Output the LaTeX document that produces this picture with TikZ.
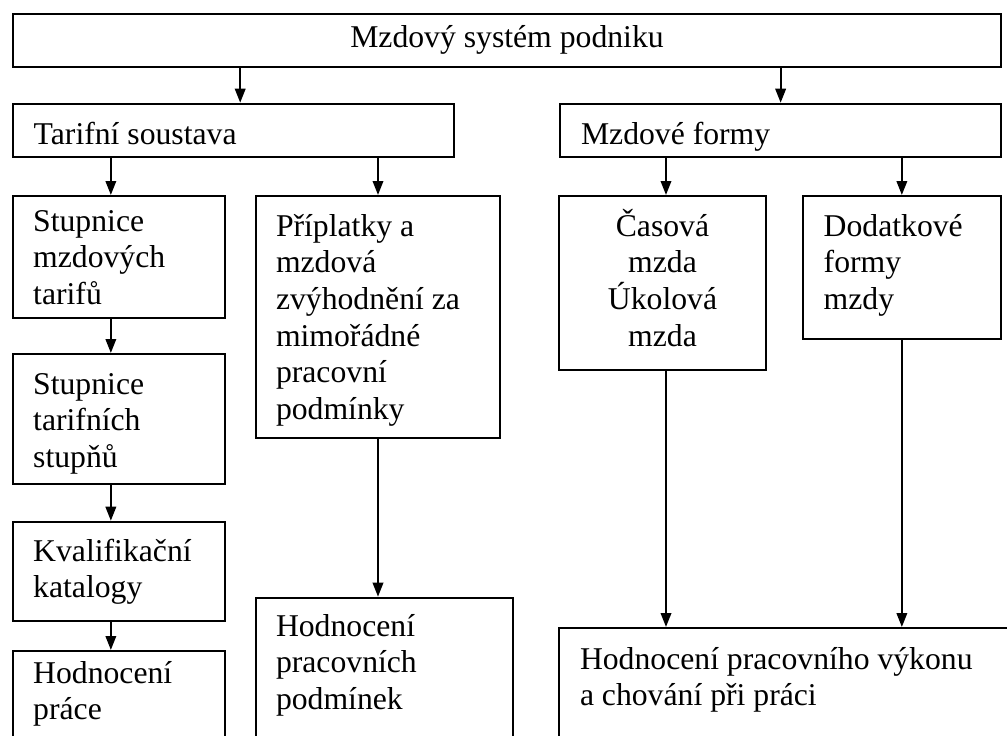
\documentclass[tikz,border=0pt]{standalone}
\usepackage{fontspec}
\setmainfont{Liberation Serif}
\usetikzlibrary{arrows.meta}

% box text: width, height, left padding, first baseline, text
\newcommand{\boxtext}[5]{\parbox[t][#2][t]{#1}{\raggedright\leftskip=#3\rule{0pt}{#4}#5}}
% centred box text: width, height, first baseline, text
\newcommand{\boxtextc}[4]{\parbox[t][#2][t]{#1}{\centering\rule{0pt}{#3}#4}}

\begin{document}
\begin{tikzpicture}[
            x=1pt, y=-1pt,
            box/.style={rectangle, draw, line width=2pt, inner sep=0pt, anchor=north west,
                        font=\fontsize{31.7pt}{36.7pt}\selectfont},
            arrow/.style={-{Triangle[length=14pt, width=10.5pt]}, line width=2pt}
        ]
            \path[use as bounding box, clip] (0,0) rectangle (1007,736);

            % Nodes
            \node[box] (root) at (11.7,13.3) {\boxtextc{988.6pt}{52.7pt}{33pt}{Mzdový systém podniku}};
            \node[box] (tarif) at (11.7,102.7) {\boxtext{441pt}{53pt}{21pt}{40.5pt}{Tarifní soustava}};
            \node[box] (forms) at (559,102.7) {\boxtext{441.3pt}{53pt}{21pt}{40.5pt}{Mzdové formy}};
            \node[box] (scale) at (11.7,195) {\boxtext{212.3pt}{121.7pt}{20.5pt}{35pt}{Stupnice\\mzdových\\tarifů}};
            \node[box] (grades) at (11.7,353) {\boxtext{212.3pt}{129.7pt}{20.5pt}{40pt}{Stupnice\\tarifních\\stupňů}};
            \node[box] (catalog) at (11.7,520.7) {\boxtext{212.3pt}{99.3pt}{20.5pt}{39.5pt}{Kvalifikační\\katalogy}};
            \node[box] (jobeval) at (11.7,650) {\boxtext{212.3pt}{110pt}{20.5pt}{32pt}{Hodnocení\\práce}};
            \node[box] (bonus) at (255,195) {\boxtext{244pt}{242pt}{20pt}{40pt}{Příplatky a\\mzdová\\zvýhodnění za\\mimořádné\\pracovní\\podmínky}};
            \node[box] (condeval) at (255,596.7) {\boxtext{257pt}{170pt}{20pt}{38.5pt}{Hodnocení\\pracovních\\podmínek}};
            \node[box] (timewage) at (558,195) {\boxtextc{207pt}{174pt}{40pt}{Časová\\mzda\\Úkolová\\mzda}};
            \node[box] (extra) at (801.7,195) {\boxtext{198.3pt}{143pt}{21pt}{40pt}{Dodatkové\\formy\\mzdy}};
            \node[box] (perfeval) at (558,627) {\boxtext{470pt}{150pt}{21pt}{41pt}{Hodnocení pracovního výkonu\\a chování při práci}};

            % Arrows
            \draw[arrow] ([xshift=7pt]tarif.north |- root.south) -- ([xshift=7pt]tarif.north);
            \draw[arrow] (forms.north |- root.south) -- (forms.north);
            \draw[arrow] ([xshift=-8pt]scale.north |- tarif.south) -- ([xshift=-8pt]scale.north);
            \draw[arrow] ([xshift=-8pt]scale.south) -- ([xshift=-8pt]grades.north);
            \draw[arrow] ([xshift=-8pt]grades.south) -- ([xshift=-8pt]catalog.north);
            \draw[arrow] ([xshift=-8pt]catalog.south) -- ([xshift=-8pt]jobeval.north);
            \draw[arrow] (bonus.north |- tarif.south) -- (bonus.north);
            \draw[arrow] (bonus.south) -- (bonus.south |- condeval.north);
            \draw[arrow] ([xshift=3.5pt]timewage.north |- forms.south) -- ([xshift=3.5pt]timewage.north);
            \draw[arrow] (extra.north |- forms.south) -- (extra.north);
            \draw[arrow] ([xshift=3.5pt]timewage.south) -- ([xshift=3.5pt]timewage.south |- perfeval.north);
            \draw[arrow] (extra.south) -- (extra.south |- perfeval.north);
        \end{tikzpicture}
\end{document}
